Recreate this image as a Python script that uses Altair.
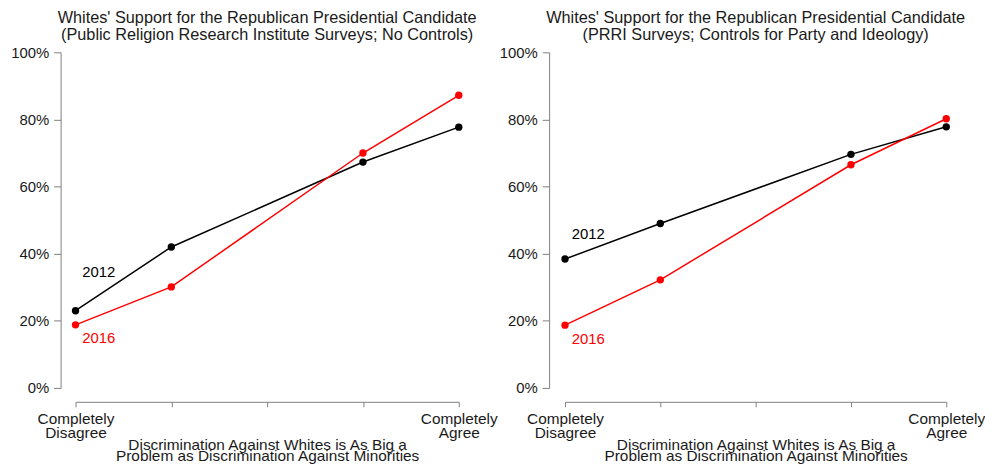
import altair as alt
import pandas as pd

# ---- data ----
agreement = [1, 2, 4, 5]                      # positions on the 5-point agreement scale
left_2012 = [23.0, 42.0, 67.3, 77.7]
left_2016 = [18.8, 30.1, 70.0, 87.2]
right_2012 = [38.4, 49.0, 69.6, 77.8]
right_2016 = [18.7, 32.2, 66.5, 80.2]
years = ["2012", "2016"]
x_ticks = [1, 2, 3, 4, 5]
y_ticks = [0, 20, 40, 60, 80, 100]
title_left = ["Whites' Support for the Republican Presidential Candidate",
              "(Public Religion Research Institute Surveys; No Controls)"]
title_right = ["Whites' Support for the Republican Presidential Candidate",
               "(PRRI Surveys; Controls for Party and Ideology)"]
x_title = ["Discrimination Against Whites is As Big a",
           "Problem as Discrimination Against Minorities"]
# annotation anchors (data units)
label_x = [1.07, 1.07]
left_label_y = [34.5, 15.0]
right_label_y = [46.0, 14.6]

FONT = "Liberation Sans"
COLORS = ["#000000", "#ff0000"]
AXIS_GRAY = "#808080"
TEXT = "#1a1a1a"


def panel(v2012, v2016, lab_y, title, width, yoff):
    df = pd.DataFrame({
        "x": agreement + agreement,
        "y": v2012 + v2016,
        "year": [years[0]] * len(agreement) + [years[1]] * len(agreement),
    })
    lab = pd.DataFrame({"x": label_x, "y": lab_y, "year": years})
    color = alt.Color("year:N", scale=alt.Scale(domain=years, range=COLORS), legend=None)
    xenc = alt.X(
        "x:Q",
        scale=alt.Scale(domain=[1, 5], nice=False, zero=False),
        axis=alt.Axis(
            values=x_ticks,
            labelExpr="datum.value == 1 ? ['Completely','Disagree'] : "
                      "(datum.value == 5 ? ['Completely','Agree'] : '')",
            title=x_title,
            offset=14, tickSize=5, labelPadding=5,
            labelFlush=False, labelOverlap=False, labelBound=False,
            labelLineHeight=13.5, labelFontSize=15.5, labelColor=TEXT,
            titleFontSize=15.5, titleFontWeight="normal", titleColor=TEXT,
            titleLineHeight=11.5, titleY=48, titleBaseline="alphabetic",
            domainColor=AXIS_GRAY, tickColor=AXIS_GRAY, grid=False,
        ),
    )
    yenc = alt.Y(
        "y:Q",
        scale=alt.Scale(domain=[0, 100], nice=False, zero=False),
        axis=alt.Axis(
            values=y_ticks, labelExpr="datum.value + '%'", title=None,
            offset=yoff, tickSize=7, labelPadding=5, labelFontSize=15,
            labelColor=TEXT, labelOverlap=False, labelFlush=False,
            domainColor=AXIS_GRAY, tickColor=AXIS_GRAY, grid=False,
        ),
    )
    base = alt.Chart(df)
    lines = base.mark_line(strokeWidth=1.5).encode(x=xenc, y=yenc, color=color, detail="year:N")
    pts = base.mark_circle(size=55, opacity=1).encode(x="x:Q", y="y:Q", color=color)
    txt = alt.Chart(lab).mark_text(
        align="left", baseline="middle", font=FONT, fontSize=15
    ).encode(x="x:Q", y="y:Q", text="year:N", color=color)
    return alt.layer(lines, pts, txt).properties(
        width=width, height=338,
        title=alt.TitleParams(
            title, fontSize=16.4, fontWeight="normal", color=TEXT, font=FONT,
            lineHeight=17, anchor="middle", frame="group", offset=2,
        ),
    )


left = panel(left_2012, left_2016, left_label_y, title_left, 386, 15)
right = panel(right_2012, right_2016, right_label_y, title_right, 384, 16)

chart = alt.hconcat(left, right, spacing=107, bounds="flush").properties(
    padding={"left": 2, "top": 0, "right": 0, "bottom": 0}
).configure(font=FONT).configure_view(stroke=None)

chart.save("out.html", embed_options={"renderer": "svg", "actions": False})
